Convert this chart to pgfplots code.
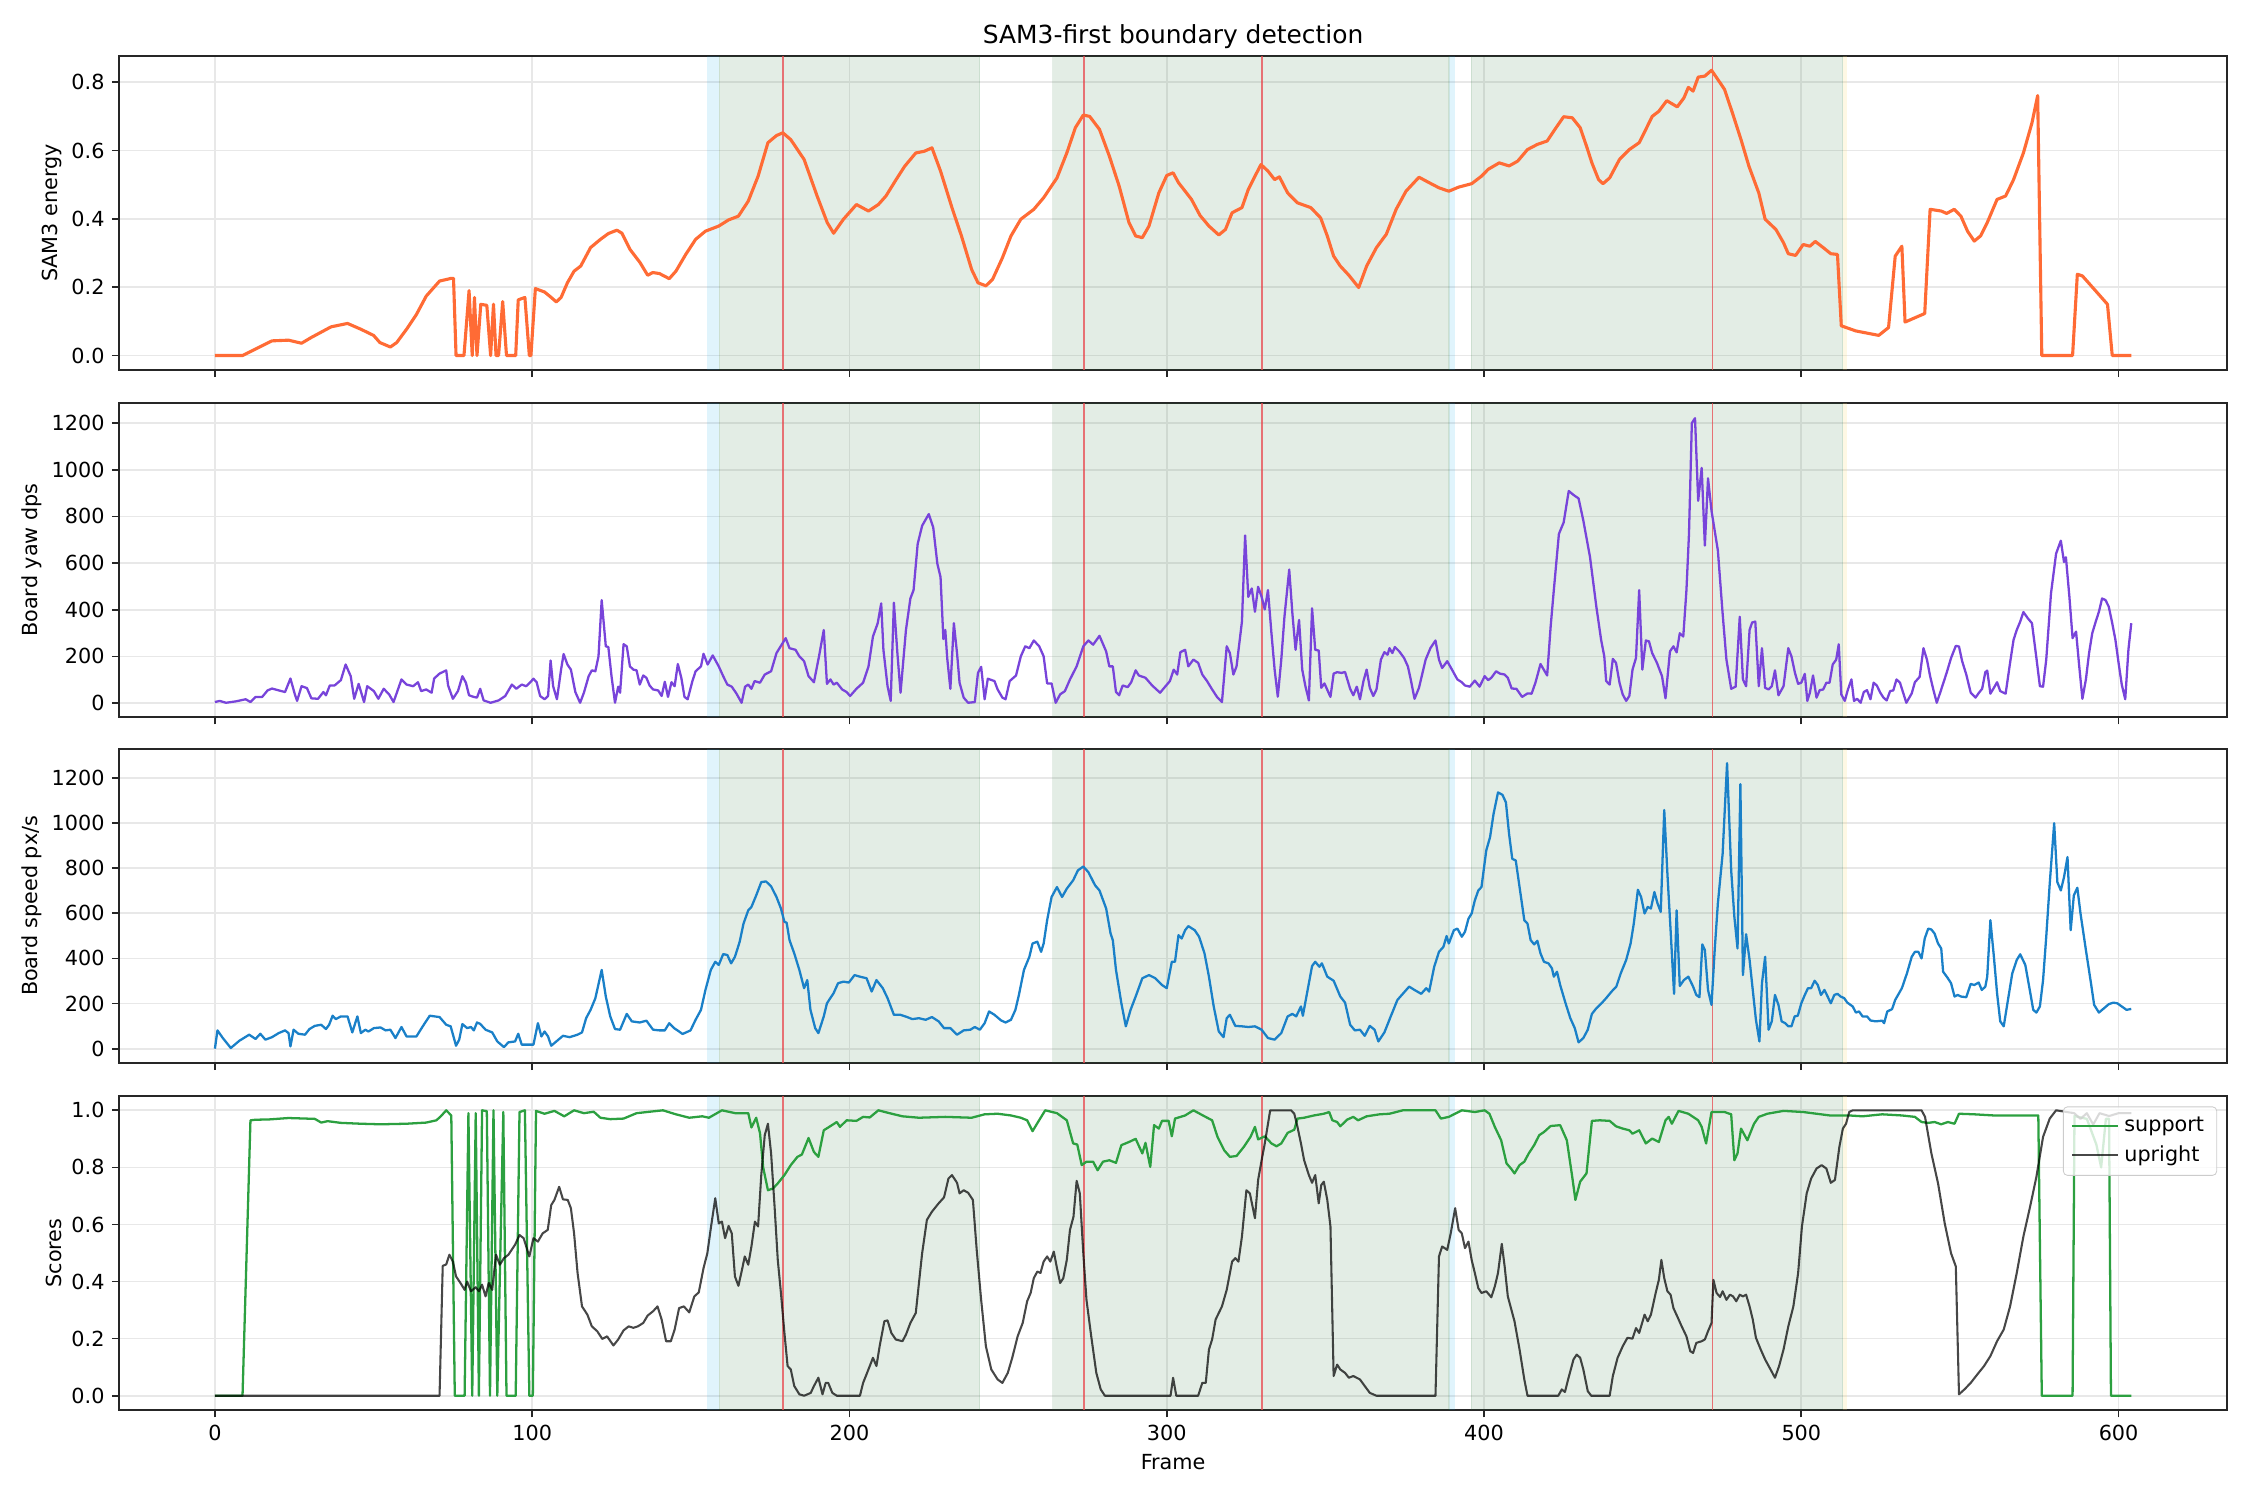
\documentclass[border=0pt]{standalone}
\usepackage{fontspec}
\setmainfont{DejaVu Sans}
\usepackage{pgfplots}
\pgfplotsset{compat=1.18}

\definecolor{eorange}{RGB}{255,107,53}
\definecolor{ypurple}{RGB}{120,68,218}
\definecolor{sblue}{RGB}{26,128,200}
\definecolor{sgreen}{RGB}{44,160,64}
\definecolor{bandgreen}{RGB}{40,117,55}
\definecolor{bandblue}{RGB}{17,170,232}
\definecolor{bandyellow}{RGB}{250,220,120}
\definecolor{vred}{RGB}{232,72,78}
\definecolor{gridc}{RGB}{232,232,232}
\definecolor{legframe}{RGB}{204,204,204}

\pgfplotsset{
 panel/.style={
  scale only axis, width=14.053in, height=2.093in,
  xmin=-30.2, xmax=634.2,
  xtick={0,100,200,300,400,500,600},
  xticklabels={},
  tick align=outside, tick pos=left,
  major tick length=3.5pt,
  every tick/.style={line width=0.8pt, color=black!85},
  axis line style={line width=0.8pt, color=black!85},
  grid=major, grid style={line width=0.8pt, color=gridc},
  tick label style={font=\fontsize{10}{12}\selectfont},
  label style={font=\fontsize{10}{12}\selectfont},
  ylabel style={yshift=-2pt},
  anchor=north west,
  clip=true,
 }
}

\newcommand{\bands}[2]{%
  \fill[bandblue, opacity=0.13] (155,#1) rectangle (159,#2);
  \fill[bandgreen, opacity=0.13] (159,#1) rectangle (241,#2);
  \fill[bandgreen, opacity=0.13] (264,#1) rectangle (389,#2);
  \fill[bandblue, opacity=0.13] (389,#1) rectangle (391,#2);
  \fill[bandgreen, opacity=0.13] (396,#1) rectangle (513,#2);
  \fill[bandyellow, opacity=0.2] (513,#1) rectangle (514.5,#2);
  \draw[bandgreen, opacity=0.12, line width=0.8pt] (159,#1) -- (159,#2) (241,#1) -- (241,#2) (264,#1) -- (264,#2) (389,#1) -- (389,#2) (396,#1) -- (396,#2) (513,#1) -- (513,#2);
  \draw[vred, opacity=0.75, line width=0.8pt] (179,#1) -- (179,#2) (274,#1) -- (274,#2) (330,#1) -- (330,#2) (472,#1) -- (472,#2);
}

\begin{document}
\begin{tikzpicture}
\useasboundingbox (0,0) rectangle (15in,10in);

% ---------------- Panel 1 ----------------
\begin{axis}[panel, at={(0.794in,9.627in)},
  ymin=-0.042, ymax=0.877,
  ytick={0,0.2,0.4,0.6,0.8}, yticklabels={0.0,0.2,0.4,0.6,0.8},
  ylabel={SAM3 energy},
  title={SAM3-first boundary detection},
  title style={font=\fontsize{12}{14}\selectfont, yshift=-5.8pt}]
\bands{-0.042}{0.877}
\addplot[eorange, line width=1.5pt, line join=round] coordinates {
(0,0)(8.7,0)(18,0.043)(23.2,0.045)(27.3,0.036)(30.4,0.053)(36.6,0.084)(41.8,0.094)(46,0.077)(50,0.059)(52,0.038)(55.3,0.025)(57.3,0.038)(60.4,0.077)(63.5,0.12)(66.6,0.174)(70.8,0.218)(74.5,0.226)(75.2,0.226)(76,0)(78.5,0)(80.1,0.19)(81.1,0)(81.8,0.17)(82.6,0)(83.8,0.15)(85.7,0.147)(86.9,0)(87.8,0.15)(88.6,0)(89.4,0)(90.7,0.158)(91.9,0)(94.8,0)(95.6,0.163)(97.7,0.17)(99.1,0)(99.6,0)(101,0.196)(103.9,0.186)(106,0.17)(107.6,0.157)(109.1,0.17)(111.1,0.213)(113.2,0.247)(115.3,0.262)(118.4,0.316)(121.5,0.34)(124,0.357)(126.7,0.367)(128.3,0.358)(130.8,0.311)(134,0.272)(136.4,0.235)(138,0.243)(140.1,0.24)(143.2,0.225)(145.3,0.247)(148.4,0.296)(151.5,0.34)(154.6,0.364)(158.8,0.379)(161.9,0.397)(165,0.408)(168.1,0.452)(171.2,0.525)(174.3,0.623)(177,0.644)(179,0.652)(181.5,0.632)(185.7,0.574)(189.8,0.467)(193,0.389)(195,0.358)(198.1,0.399)(202.2,0.442)(206,0.423)(209.1,0.442)(211.5,0.467)(214.7,0.515)(217.4,0.554)(220.9,0.593)(223.6,0.598)(226,0.608)(228.7,0.54)(232.3,0.433)(235.3,0.35)(238.5,0.252)(240.5,0.213)(243,0.204)(245.1,0.223)(248.2,0.286)(250.9,0.35)(254,0.399)(258.1,0.428)(261.2,0.462)(265.4,0.52)(268.5,0.593)(271.2,0.667)(273.7,0.704)(275.7,0.70)(278.8,0.662)(281.9,0.584)(285,0.496)(288.1,0.389)(290.2,0.35)(292.3,0.345)(294.4,0.379)(297.5,0.476)(300,0.527)(302,0.535)(303.7,0.506)(305.8,0.481)(307.8,0.457)(310.5,0.41)(313.3,0.379)(316.4,0.353)(318.5,0.369)(320.6,0.418)(323.7,0.433)(325.7,0.486)(327.8,0.525)(329.7,0.559)(331.9,0.54)(334,0.515)(335.5,0.523)(338.1,0.476)(341.2,0.447)(345.4,0.433)(348.5,0.403)(350.6,0.35)(352.6,0.291)(354.7,0.262)(357.4,0.235)(360.5,0.199)(363,0.262)(366.1,0.316)(369.2,0.355)(372.3,0.428)(375.4,0.481)(379.5,0.522)(382.7,0.506)(385.8,0.491)(388.9,0.481)(392,0.493)(396.1,0.503)(399.2,0.525)(401.3,0.545)(404.8,0.564)(407.9,0.555)(410.6,0.569)(413.7,0.603)(416.8,0.618)(419.9,0.628)(423,0.671)(425.1,0.699)(427.8,0.696)(430.3,0.667)(432.3,0.613)(434,0.564)(436.1,0.515)(437.5,0.503)(439.6,0.52)(442.7,0.574)(445.8,0.603)(448.9,0.623)(451,0.662)(453,0.70)(455.1,0.715)(457.6,0.746)(460.9,0.728)(463,0.754)(464.4,0.785)(465.9,0.774)(467.5,0.815)(469.6,0.818)(471.7,0.835)(473.7,0.808)(475.8,0.779)(478.3,0.71)(481,0.632)(483.5,0.554)(486.6,0.476)(488.6,0.399)(492,0.369)(494.4,0.33)(495.9,0.298)(498.2,0.293)(500.6,0.325)(502.7,0.32)(504.4,0.334)(506.9,0.316)(509.3,0.298)(511.4,0.296)(512.6,0.087)(517.2,0.072)(524.4,0.059)(527.5,0.082)(529.6,0.291)(531.7,0.32)(532.7,0.098)(538.9,0.123)(540.6,0.428)(544.1,0.423)(545.8,0.416)(548.2,0.428)(550.3,0.408)(552.4,0.364)(554.5,0.335)(556.5,0.35)(558.6,0.389)(561.7,0.457)(564.4,0.467)(566.9,0.515)(570,0.593)(572.7,0.681)(574.5,0.761)(575.8,0)(585.5,0)(587,0.238)(588.6,0.233)(592.8,0.189)(596.5,0.15)(598,0)(604,0)
};
\end{axis}

% ---------------- Panel 2 ----------------
\begin{axis}[panel, at={(0.794in,7.313in)},
  ymin=-60, ymax=1286,
  ytick={0,200,400,600,800,1000,1200}, yticklabels={0,200,400,600,800,1000,1200},
  ylabel={Board yaw dps}]
\bands{-60}{1286}
\addplot[ypurple, line width=1.1pt, line join=round] coordinates {
(0,4)(1.5,9)(3.5,1)(6.6,7)(9.7,16)(11.2,4)(12.8,26)(14.9,26)(16.6,54)(18,62)(20.1,54)(22.1,47)(23.8,105)(25.2,37)(25.9,9)(27.3,72)(29,64)(30.4,20)(32.5,18)(34.2,47)(35,33)(36.2,75)(37.7,75)(39.7,98)(41.2,165)(42.8,115)(43.9,18)(45.3,82)(47,4)(48,72)(50.1,51)(51.5,18)(53.2,61)(54.9,37)(56.3,4)(58.8,101)(60.4,79)(62.5,72)(64,89)(65,51)(66.6,58)(68.3,44)(69.1,105)(70.8,126)(72.9,140)(73.5,75)(75,18)(76.6,51)(78,115)(79.1,87)(80.1,33)(81.6,26)(82.6,23)(83.6,61)(84.7,11)(86.9,1)(89.4,11)(91.5,30)(93.6,79)(95,61)(96.7,79)(98.1,72)(99.4,89)(100.4,104)(101.4,89)(102.5,30)(103.9,16)(105,30)(105.8,182)(106.6,72)(107.8,16)(109.1,143)(109.9,210)(111.1,165)(112.2,143)(113.6,47)(115.1,1)(116.3,44)(117.8,115)(118.8,140)(119.9,136)(120.9,200)(121.9,441)(123.2,243)(124,240)(125,115)(126.1,1)(127.1,70)(127.7,44)(128.8,252)(129.8,243)(130.8,157)(131.9,143)(132.9,140)(133.9,79)(135,118)(136,108)(137,75)(138.1,58)(139.7,54)(140.8,30)(141.8,91)(142.8,26)(143.9,89)(144.9,72)(145.9,167)(147,108)(148,26)(149,16)(150.5,94)(151.5,136)(153.2,157)(154,211)(155.3,165)(156.9,204)(158.8,157)(160.2,115)(161.5,79)(162.9,70)(164.4,40)(166,1)(167.1,70)(168.1,79)(169.1,61)(170.1,94)(171.8,87)(173.3,122)(175.3,136)(177,214)(178.4,245)(179.9,278)(181.1,235)(183,228)(184.2,200)(185.7,179)(187.1,115)(188.8,89)(190.4,200)(191.9,313)(192.9,82)(194,101)(195,79)(196,87)(197.7,58)(199.1,47)(200.2,30)(202.2,61)(204.3,87)(206,157)(207.4,285)(208.9,342)(210,427)(210.7,228)(212,72)(213,9)(214,430)(215.1,214)(216.1,44)(217.8,313)(219.2,448)(220.2,484)(221.5,682)(222.9,760)(225,810)(226.4,753)(227.7,597)(228.7,540)(229.6,274)(230.2,313)(230.8,193)(231.8,61)(232.9,342)(233.9,214)(234.7,87)(236,23)(237.4,1)(239.5,4)(240.5,129)(241.5,155)(242.6,16)(243.6,104)(245.7,94)(246.7,58)(248.2,23)(249.2,16)(250.5,94)(252.5,118)(254,200)(255.4,243)(256.7,235)(258.1,268)(259.8,243)(261.2,200)(262.3,84)(263.7,84)(265,1)(266.4,37)(267.9,51)(269.5,101)(271.6,157)(273.7,243)(275.3,268)(276.8,250)(278.8,288)(280.9,221)(281.9,157)(283,157)(284,47)(285,33)(286.1,75)(287.7,68)(288.8,89)(290.2,140)(291.2,118)(293.3,108)(295.4,75)(297.9,44)(299.5,70)(301,94)(302.2,143)(303.3,122)(304.3,218)(305.8,228)(306.8,157)(308.4,186)(309.9,172)(311.2,122)(312.7,94)(314.3,58)(316,23)(317.4,4)(318.9,243)(319.9,214)(321,122)(322,157)(323.7,349)(324.7,718)(325.7,455)(326.8,491)(327.8,391)(328.8,498)(329.9,455)(330.9,401)(331.9,484)(333,299)(334,143)(335,27)(336.1,186)(337.1,370)(338.6,572)(339.6,384)(340.6,228)(341.7,356)(342.7,143)(343.7,72)(344.8,11)(345.8,406)(346.8,228)(347.9,225)(348.7,65)(349.7,84)(351.6,26)(352.6,126)(353.7,132)(355.1,129)(356.2,133)(357.8,61)(358.8,33)(359.9,70)(360.9,16)(362,94)(363,143)(364,65)(365.1,30)(366.1,58)(367.5,186)(368.6,218)(369.6,207)(370.2,235)(371.1,214)(371.9,240)(373.3,221)(374.8,193)(376,157)(376.9,101)(378.1,18)(379.5,65)(381.6,186)(383.1,235)(384.7,268)(385.8,186)(386.8,150)(388.4,179)(389.9,143)(391.6,101)(393,89)(394,75)(395.5,70)(397.1,96)(398.6,70)(400.2,115)(401.3,98)(402.3,108)(403.8,136)(405,126)(406.5,122)(407.5,108)(408.7,62)(410.2,61)(412,26)(413.7,41)(415,40)(416.2,87)(417.8,167)(419.9,118)(421,328)(422,484)(423.6,725)(425.1,774)(426.7,909)(428.2,892)(429.8,877)(431.3,782)(433.4,626)(435.4,413)(436.9,271)(437.9,200)(438.5,94)(439.6,79)(440.6,189)(441.6,172)(442.7,87)(443.7,37)(444.8,9)(445.8,30)(446.8,143)(447.9,193)(448.9,484)(449.9,143)(451,268)(452,264)(453,214)(454.5,172)(456.1,115)(457.2,20)(458.6,221)(459.7,243)(460.7,217)(461.7,299)(462.8,285)(463.8,484)(464.6,725)(465.5,1200)(466.5,1221)(467.5,867)(468.6,1008)(469.6,675)(470.6,963)(471.7,824)(473.7,654)(475.2,384)(476.4,186)(477.9,61)(479.3,70)(480.6,370)(481.6,101)(482.6,72)(483.7,313)(484.5,345)(485.5,349)(486.6,72)(487.6,235)(488.6,65)(489.7,58)(490.7,72)(491.7,140)(492.8,33)(494.4,72)(495.9,235)(496.9,200)(498,129)(499,82)(500,87)(501.1,125)(501.9,9)(502.7,44)(503.7,118)(504.8,23)(505.8,55)(506.9,58)(507.9,87)(508.9,87)(509.9,165)(511,186)(511.8,252)(512.6,37)(513.7,9)(514.7,58)(515.8,101)(516.6,9)(517.6,18)(518.7,1)(519.7,47)(520.7,55)(521.8,16)(522.8,87)(523.8,75)(524.9,44)(525.9,23)(526.9,11)(528,51)(529,54)(530,101)(531.1,87)(532.1,44)(533.1,1)(534.8,41)(535.8,89)(537.3,112)(538.5,235)(539.6,186)(540.6,115)(541.6,58)(542.7,1)(544.1,58)(545.8,129)(547.2,193)(548.7,245)(549.7,242)(550.7,179)(552,122)(553.4,44)(554.9,23)(556,44)(557,61)(558,132)(558.6,139)(559.6,40)(560.7,65)(561.7,89)(562.7,51)(564.4,40)(565.8,172)(566.9,271)(567.9,313)(569,349)(570,390)(571.4,363)(572.7,342)(574.1,193)(575.2,72)(576.2,70)(577.2,186)(578.7,470)(580.3,640)(581.8,696)(582.8,604)(583.4,625)(584.5,455)(585.5,278)(586.6,306)(587.6,157)(588.6,18)(589.7,101)(590.7,214)(591.7,299)(592.8,349)(593.8,391)(594.8,448)(595.9,441)(596.9,413)(597.9,349)(599,271)(600,172)(601,79)(602.1,16)(603.1,228)(604,342)
};
\end{axis}

% ---------------- Panel 3 ----------------
\begin{axis}[panel, at={(0.794in,5.007in)},
  ymin=-63, ymax=1328,
  ytick={0,200,400,600,800,1000,1200}, yticklabels={0,200,400,600,800,1000,1200},
  ylabel={Board speed px/s}]
\bands{-63}{1328}
\addplot[sblue, line width=1.1pt, line join=round] coordinates {
(0,0)(0.8,81)(2.5,47)(5,3)(7.7,35)(10.8,62)(12.8,43)(14.3,66)(15.9,40)(18,51)(20.1,69)(22.1,81)(23.2,69)(23.8,10)(24.8,84)(26.3,66)(28.4,62)(29.8,87)(31.5,101)(33.5,106)(35,87)(36,106)(37.1,146)(38.1,131)(39.7,143)(41.8,143)(43.3,72)(44.9,143)(46,69)(47.4,84)(48.4,76)(50.1,91)(52.2,94)(53.8,81)(55.3,84)(56.9,47)(58.8,96)(60.4,54)(63.5,54)(65.6,101)(67.7,146)(70.8,140)(72.9,106)(74.3,99)(76,13)(77,40)(78,109)(79.5,91)(80.7,96)(81.6,81)(82.6,116)(83.6,110)(85.3,84)(87.4,72)(89,32)(91.1,7)(92.5,28)(94.6,32)(95.6,66)(96.7,18)(98.7,18)(100.4,18)(101.8,113)(102.9,54)(103.9,76)(105,54)(106,13)(107.6,32)(109.7,57)(111.8,51)(114.3,62)(115.7,72)(117,135)(118.4,172)(119.9,223)(121.9,349)(123.2,231)(124.6,143)(126.1,87)(127.7,84)(129.8,154)(131.4,121)(133.9,116)(136,124)(138.1,84)(140.1,81)(141.8,81)(143.2,113)(144.7,91)(146.3,76)(147.4,65)(149.9,81)(151.5,128)(153.2,172)(154.6,260)(156.3,349)(157.7,385)(158.8,371)(160.2,419)(161.5,415)(162.7,378)(163.9,407)(165.4,474)(166.6,554)(168.1,613)(169.1,628)(170.6,679)(172.2,738)(173.7,741)(175.3,719)(177,672)(178.4,621)(179.5,562)(180.2,558)(181.1,481)(182.6,422)(184.2,349)(185.7,268)(186.7,304)(187.7,172)(189.2,91)(190.2,69)(191.9,143)(192.9,201)(195,246)(196.4,290)(198.1,297)(199.8,293)(201.6,326)(203.3,319)(205.4,312)(207,253)(208.5,304)(210.5,268)(212,224)(214,150)(216.1,150)(218.2,140)(219.8,131)(221.9,135)(224,128)(226,140)(228.1,121)(229.8,91)(231.8,91)(233.9,62)(236,81)(238.1,84)(239.5,96)(241.1,84)(242.6,113)(244,165)(245.7,150)(247.8,125)(249.2,116)(250.9,128)(252.3,172)(253.4,238)(255,349)(256.7,407)(257.7,466)(259.2,474)(260.4,429)(261.2,466)(262.3,569)(263.7,672)(265.4,716)(267,672)(268.5,709)(270.5,746)(272,790)(273.7,807)(275.3,782)(277.4,724)(278.8,701)(280.9,621)(282.3,510)(283,481)(284,349)(285.7,201)(287.1,99)(288.6,172)(290.2,231)(292.3,312)(294.4,326)(296.4,312)(298.5,282)(300,268)(301.6,385)(302.6,385)(303.7,503)(304.7,488)(305.8,525)(306.8,543)(308.8,525)(310.2,496)(311.9,422)(313.3,319)(314.8,187)(316.4,76)(317.9,51)(318.9,135)(319.9,150)(321.6,101)(323.7,99)(325.7,96)(327.8,99)(329.9,84)(331.9,47)(334,40)(336.1,69)(338.1,143)(339.6,154)(340.8,143)(342.3,187)(342.9,146)(344.4,260)(345.8,366)(346.8,385)(348.1,363)(348.9,378)(350.6,319)(352.6,301)(354.7,231)(356.2,204)(357.8,106)(359.3,81)(360.9,84)(362.4,57)(364,101)(365.5,84)(366.7,32)(368.6,72)(370.6,143)(372.7,216)(374.4,243)(376.4,275)(378.1,260)(380.2,243)(381.8,268)(382.7,253)(384.3,363)(385.8,429)(387.2,451)(388.2,499)(388.9,466)(390.5,525)(391.6,532)(393,496)(394,518)(395.1,576)(396.1,599)(397.1,657)(398.2,701)(399.2,716)(400.7,878)(401.9,937)(403,1040)(404.4,1135)(405.8,1125)(406.9,1091)(407.9,951)(408.9,841)(410,834)(411.2,716)(412.7,569)(413.7,554)(414.7,481)(415.8,462)(416.8,478)(417.8,422)(418.9,385)(420.3,378)(421.4,356)(422,319)(423,341)(424,282)(425.7,201)(427.2,135)(428.6,91)(429.8,28)(431.3,47)(432.7,84)(434,154)(435.4,179)(436.9,199)(438.5,224)(440.2,253)(441.7,275)(443.1,334)(444.8,393)(446.2,466)(447.2,554)(448.5,704)(449.5,672)(450.6,599)(451.6,628)(452.6,621)(453.7,694)(454.7,643)(455.7,606)(456.8,1057)(457.8,775)(458.8,525)(459.9,243)(460.7,613)(461.7,278)(463,304)(464.4,319)(465.9,275)(466.9,238)(467.9,228)(468.8,462)(469.6,437)(470.6,260)(471.7,194)(472.7,437)(473.7,643)(475.2,863)(476.6,1265)(477.9,790)(478.9,584)(479.9,444)(480.8,1172)(481.6,326)(482.6,507)(483.7,393)(484.7,260)(485.7,128)(486.8,32)(487.6,290)(488.6,407)(489.7,84)(490.7,121)(491.7,238)(492.8,194)(493.8,121)(494.9,113)(495.9,99)(496.9,99)(497.9,143)(498.9,146)(500,201)(501.1,238)(502.1,268)(503.1,268)(504.2,301)(505.2,282)(506.2,238)(507.3,260)(508.3,231)(509.3,201)(510.4,238)(511.4,243)(512.4,231)(513.5,224)(514.5,204)(516.2,187)(517.2,160)(518.2,165)(519.3,143)(520.7,143)(521.8,125)(523.4,121)(525.5,124)(526.1,113)(527.1,165)(528.6,175)(529.6,216)(531.7,268)(533.3,334)(534.8,407)(535.8,429)(536.9,429)(537.9,400)(538.9,488)(540,532)(541,528)(542,510)(543.1,466)(544.1,444)(544.7,341)(546.2,312)(547.2,290)(548.3,231)(549.3,238)(550.3,231)(552,228)(553.4,287)(554.5,282)(555.9,293)(556.9,260)(558,275)(558.6,319)(559.6,569)(560.7,407)(561.7,246)(562.7,121)(563.8,99)(564.8,187)(566.5,334)(567.9,393)(569,418)(570.6,371)(572.1,253)(573.1,172)(574.1,160)(575.2,187)(576.2,304)(577.2,496)(578.3,731)(579.7,999)(580.7,738)(581.8,701)(582.8,760)(583.9,849)(584.9,525)(585.9,679)(587,713)(588,599)(589.7,437)(591.3,290)(592.3,194)(593.8,160)(595.4,179)(596.9,197)(598.3,204)(599.6,201)(601,187)(602.5,172)(604,176)
};
\end{axis}

% ---------------- Panel 4 ----------------
\begin{axis}[panel, at={(0.794in,2.693in)},
  ymin=-0.05, ymax=1.05,
  ytick={0,0.2,0.4,0.6,0.8,1.0}, yticklabels={0.0,0.2,0.4,0.6,0.8,1.0},
  xticklabels={0,100,200,300,400,500,600},
  ylabel={Scores}, xlabel={Frame},
  legend cell align=left,
  legend style={at={(1,1)}, anchor=north east, xshift=-4.8pt, yshift=-5pt, draw=legframe, rounded corners=2pt, fill=white, fill opacity=0.8, text opacity=1, font=\fontsize{10}{12}\selectfont, inner xsep=3.5pt, inner ysep=2.5pt, row sep=0pt, nodes={inner sep=2.6pt}},
  legend image code/.code={\draw[#1] (0cm,0cm) -- (0.78cm,0cm);}]
\bands{-0.05}{1.05}
\addplot[sgreen, line width=1.1pt, line join=round] coordinates {
(0,0)(8.7,0)(11.2,0.965)(12.8,0.967)(17,0.968)(23.2,0.973)(31.5,0.97)(33.5,0.957)(35.5,0.962)(39.7,0.956)(46,0.953)(52.2,0.951)(60.4,0.953)(66.6,0.957)(69.8,0.965)(71.2,0.979)(72.9,1.0)(74.5,0.982)(75.6,0)(78.7,0)(79.9,0.99)(81.1,0)(82.2,0.99)(83.2,0)(84.2,1.0)(85.7,0.997)(86.7,0)(87.8,1.0)(89,0)(90.9,0.994)(91.9,0)(94.8,0)(96,0.994)(97.7,1.0)(99.1,0)(100.2,0)(101.2,0.998)(103.9,0.988)(107,0.998)(110.1,0.979)(113.2,1.0)(116.3,0.99)(119.4,0.995)(121.5,0.974)(124.6,0.969)(128.8,0.971)(132.9,0.99)(137,0.995)(141.2,1.0)(145.3,0.986)(149.5,0.974)(153.6,0.979)(155.7,0.974)(159.8,1.0)(164,0.99)(168.1,0.99)(169.1,0.94)(170.6,0.974)(171.8,0.92)(172.8,0.80)(174.3,0.72)(175.9,0.726)(177.4,0.744)(179.5,0.773)(181.5,0.808)(183.6,0.837)(185,0.845)(187.1,0.903)(188.8,0.854)(190.2,0.837)(191.9,0.93)(193.9,0.944)(196,0.959)(197,0.942)(199.1,0.965)(202.2,0.963)(204.3,0.977)(206.4,0.975)(209.1,1.0)(212.6,0.99)(216.7,0.979)(221.9,0.974)(230.2,0.977)(238.5,0.974)(242.6,0.986)(246.7,0.988)(250.9,0.982)(254,0.974)(256,0.965)(257.7,0.927)(259.6,0.962)(261.7,1.0)(265.4,0.99)(268.5,0.965)(270.5,0.884)(271.8,0.88)(273.2,0.808)(274.7,0.82)(276.8,0.82)(278.2,0.79)(279.9,0.82)(281.9,0.825)(284,0.816)(285.7,0.878)(288.1,0.889)(290.2,0.90)(292.3,0.849)(293.3,0.886)(294.8,0.802)(296,0.948)(297.5,0.936)(298.5,0.963)(300.6,0.963)(301.6,0.909)(302.6,0.971)(305.8,0.982)(308.4,1.0)(311.9,0.979)(314.3,0.965)(316,0.907)(318.1,0.86)(319.9,0.837)(322,0.84)(324.3,0.872)(326.4,0.907)(327.8,0.942)(328.8,0.898)(330.9,0.909)(333,0.884)(334.6,0.874)(336.1,0.884)(338.1,0.921)(340.2,0.932)(341.2,0.971)(343.3,0.974)(346.4,0.982)(349.5,0.988)(351.2,0.994)(352.2,0.965)(353.7,0.959)(354.7,0.944)(356.8,0.967)(358.8,0.977)(360.3,0.965)(363,0.979)(367.1,0.986)(370.2,0.988)(374.4,1.0)(384.7,1.0)(386.4,0.971)(388.9,0.977)(393,1.0)(397.1,0.994)(400.2,1.0)(401.7,0.988)(403.4,0.942)(405.4,0.895)(407.1,0.814)(408.5,0.796)(409.6,0.779)(411.2,0.808)(412.7,0.82)(414.1,0.849)(415.8,0.878)(417.4,0.913)(418.9,0.924)(421,0.945)(424,0.948)(426.1,0.895)(427.8,0.767)(428.8,0.686)(430.3,0.75)(432.3,0.779)(434,0.963)(436.5,0.965)(439.6,0.963)(441.6,0.944)(443.7,0.936)(445.8,0.930)(446.8,0.918)(448.9,0.930)(451,0.884)(453,0.901)(455.1,0.889)(457.2,0.965)(458.2,0.977)(459.2,0.953)(461.3,0.998)(464.4,0.988)(467.5,0.965)(468.6,0.942)(470,0.884)(471.7,0.994)(475.8,0.994)(477.9,0.986)(478.9,0.825)(479.9,0.849)(481,0.936)(483,0.895)(485.1,0.953)(486.6,0.977)(489.3,0.988)(494.4,0.998)(500.6,0.994)(504.8,0.988)(509,0.982)(515.1,0.982)(519.3,0.979)(525.5,0.986)(531.7,0.982)(535.8,0.977)(537.9,0.959)(540,0.956)(542,0.959)(544.1,0.951)(546.2,0.959)(548.3,0.953)(549.7,0.988)(554.5,0.986)(560.7,0.982)(569,0.982)(574.7,0.982)(575.8,0)(585.5,0)(586.1,0.98)(590,0.97)(593,0.88)(594.5,0.80)(596,0.97)(597,0.97)(597.6,0)(604,0)
};
\addlegendentry{support}
\addplot[black, opacity=0.72, line width=1.0pt, line join=round] coordinates {
(0,0)(70.8,0)(71.8,0.455)(72.9,0.46)(73.9,0.494)(75,0.47)(76,0.418)(77.4,0.395)(78.7,0.371)(79.5,0.40)(80.7,0.366)(82.2,0.38)(83.2,0.366)(84.2,0.389)(85.3,0.348)(86.3,0.395)(87.4,0.371)(88.6,0.494)(89.8,0.459)(91.1,0.482)(92.5,0.494)(94.6,0.529)(96,0.563)(97.3,0.552)(99.1,0.488)(100.4,0.552)(101.8,0.54)(103.3,0.569)(104.9,0.581)(106,0.668)(107,0.686)(108.5,0.732)(109.7,0.688)(111.2,0.686)(112.2,0.657)(113.2,0.569)(114.3,0.43)(115.7,0.313)(117.4,0.284)(118.8,0.243)(120.5,0.226)(122.1,0.199)(123.6,0.208)(125.6,0.176)(127.1,0.197)(128.8,0.229)(130.4,0.243)(131.9,0.238)(133.3,0.243)(135,0.255)(136.4,0.281)(138.1,0.296)(139.5,0.313)(140.8,0.267)(142.2,0.191)(143.7,0.191)(144.9,0.232)(146.3,0.307)(147.8,0.313)(149.5,0.292)(151.1,0.348)(152.5,0.362)(154,0.447)(155.2,0.499)(156.3,0.587)(157.7,0.692)(158.8,0.604)(159.8,0.61)(160.8,0.552)(161.9,0.595)(162.9,0.569)(163.9,0.418)(165,0.385)(166,0.435)(167,0.488)(168.1,0.459)(169.1,0.523)(170.2,0.61)(171.2,0.593)(172.2,0.773)(173.3,0.913)(174.3,0.953)(175.3,0.849)(176.4,0.662)(177.4,0.476)(178.4,0.36)(179.5,0.22)(180.5,0.104)(181.5,0.092)(182.6,0.034)(184.2,0.005)(185.7,0)(187.8,0.01)(188.8,0.034)(190.2,0.063)(191.5,0.005)(192.5,0.045)(193.3,0.045)(194.6,0.01)(196,0)(203.3,0)(204.3,0.045)(206.4,0.104)(207.4,0.133)(208.5,0.104)(209.5,0.173)(211,0.261)(212,0.264)(213.2,0.22)(214.6,0.197)(216.7,0.191)(217.8,0.214)(219.2,0.255)(220.9,0.29)(221.9,0.395)(222.9,0.499)(224.4,0.616)(226,0.645)(228.1,0.674)(229.8,0.695)(231.2,0.761)(232.3,0.773)(233.9,0.746)(234.7,0.709)(236,0.72)(237.4,0.711)(238.9,0.686)(240.1,0.511)(241.5,0.336)(243,0.173)(244.7,0.092)(246.7,0.057)(248.2,0.045)(249.9,0.08)(251.3,0.133)(253,0.208)(254.6,0.255)(256,0.331)(257.1,0.36)(258.1,0.412)(259.2,0.435)(260.2,0.43)(261.2,0.47)(262.3,0.488)(263.3,0.47)(264.4,0.505)(265.4,0.447)(266.4,0.395)(267.4,0.412)(268.5,0.476)(269.5,0.581)(270.6,0.627)(271.6,0.753)(272.6,0.709)(273.7,0.499)(274.7,0.336)(276.2,0.208)(277.8,0.08)(279.2,0.022)(280.5,0)(301.2,0)(302,0.063)(303,0)(309.9,0)(311.2,0.045)(312.3,0.045)(313.3,0.162)(314.3,0.197)(315.4,0.267)(317.4,0.313)(318.9,0.371)(320.6,0.47)(321.6,0.482)(322.6,0.47)(323.7,0.558)(325.1,0.72)(326.2,0.709)(327.8,0.622)(328.8,0.756)(329.9,0.825)(330.9,0.884)(332.6,1.0)(339.2,1.0)(340.2,0.988)(341.2,0.942)(342.3,0.884)(343.3,0.825)(344.8,0.773)(345.8,0.746)(346.8,0.773)(347.9,0.674)(348.7,0.738)(349.5,0.75)(350.6,0.686)(351.6,0.593)(352.6,0.069)(353.7,0.109)(354.7,0.092)(356.2,0.08)(357.4,0.063)(358.8,0.069)(360.9,0.057)(362.4,0.034)(364,0.01)(366.1,0)(384.7,0)(385.8,0.488)(386.8,0.523)(388.4,0.511)(389.5,0.569)(390.9,0.657)(392,0.581)(393,0.569)(394,0.517)(395.1,0.54)(396.1,0.476)(397.1,0.43)(398.2,0.377)(399.2,0.36)(400.7,0.366)(402.3,0.345)(403.4,0.383)(404.4,0.43)(405.6,0.532)(406.5,0.453)(407.5,0.348)(409.6,0.261)(411.2,0.162)(412.7,0.057)(413.7,0)(423.4,0)(424.5,0.022)(425.5,0.013)(426.5,0.057)(428.2,0.127)(429.2,0.144)(430.3,0.133)(431.3,0.092)(432.7,0.016)(433.8,0)(439.6,0)(440.6,0.069)(442.1,0.133)(443.7,0.173)(445.2,0.203)(446.8,0.2)(447.9,0.237)(448.9,0.22)(450.6,0.284)(451.6,0.261)(452.6,0.284)(454.1,0.36)(455.1,0.406)(455.9,0.476)(456.8,0.412)(457.8,0.366)(458.8,0.354)(459.7,0.307)(460.9,0.278)(462.3,0.243)(463.8,0.208)(465,0.156)(465.9,0.15)(466.9,0.185)(468.6,0.191)(469.6,0.197)(470.6,0.226)(471.7,0.255)(472.3,0.406)(473.3,0.36)(474.4,0.346)(475.2,0.366)(476.4,0.336)(477.5,0.354)(478.5,0.348)(479.5,0.331)(480.6,0.354)(481.6,0.348)(482.6,0.354)(483.7,0.313)(484.7,0.267)(485.7,0.203)(487.2,0.162)(488.6,0.127)(490.3,0.092)(491.7,0.063)(493,0.104)(494.4,0.162)(495.9,0.243)(497.5,0.313)(499,0.43)(500.2,0.593)(501.7,0.709)(503.1,0.761)(504.8,0.796)(506.4,0.808)(507.9,0.796)(509.3,0.746)(510.6,0.756)(512,0.872)(513.1,0.936)(514.1,0.953)(515.1,0.994)(516.2,1.0)(537.9,1.0)(539,0.977)(541,0.849)(543.1,0.744)(545.2,0.604)(547.2,0.499)(548.7,0.453)(549.7,0.005)(551.4,0.022)(553.4,0.045)(555.5,0.075)(557.6,0.104)(559.6,0.139)(561.7,0.191)(563.8,0.232)(565.8,0.313)(567.9,0.43)(570,0.558)(572.1,0.662)(574.1,0.767)(576.2,0.907)(578.3,0.971)(580.3,1.0)(586,0.99)(588,0.97)(590,0.99)(592,0.95)(594,0.99)(597,0.98)(600,0.99)(604,0.99)
};
\addlegendentry{upright}
\end{axis}
\end{tikzpicture}
\end{document}
